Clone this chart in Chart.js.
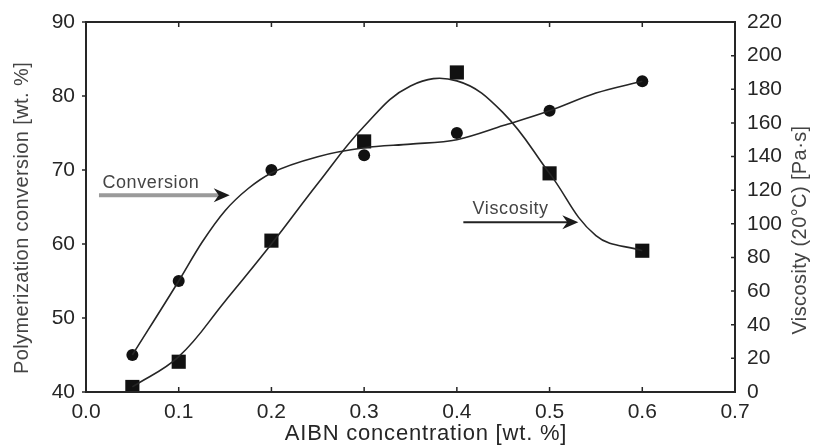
<!DOCTYPE html>
<html>
<head>
<meta charset="utf-8">
<script src="https://cdn.jsdelivr.net/npm/chart.js@4"></script>
<style>
  html,body{ margin:0; padding:0; background:#fff; }
  #wrap{ width:819px; height:448px; }
</style>
</head>
<body>
<div id="wrap"><canvas id="chart" width="819" height="448"></canvas></div>
<script>
// measured points
const concentration = [0.05, 0.1, 0.2, 0.3, 0.4, 0.5, 0.6];
const conversion = [45, 55, 70, 72, 75, 78, 82];       // wt. %
const viscosity = [3, 18, 90, 149, 190, 130, 84];      // Pa·s

// fitted curves
const conversionFitX = [0.05, 0.1, 0.125, 0.15, 0.175, 0.2, 0.25, 0.3, 0.35, 0.4, 0.45, 0.5, 0.55, 0.6];
const conversionFit = [45, 55, 60.2, 64.5, 67.5, 69.6, 71.8, 73, 73.5, 74.1, 76, 78, 80.4, 82];
const viscosityFitX = [0.05, 0.1, 0.15, 0.2, 0.25, 0.3, 0.35, 0.4, 0.45, 0.5, 0.55, 0.6];
const viscosityFit = [3, 21, 54, 88, 124, 158, 182, 185, 166, 130, 93, 84];

const xTicks = [0, 0.1, 0.2, 0.3, 0.4, 0.5, 0.6, 0.7];
const leftTicks = [40, 50, 60, 70, 80, 90];
const rightTicks = [0, 20, 40, 60, 80, 100, 120, 140, 160, 180, 200, 220];

const font = "'Liberation Sans', Arial, sans-serif";
const ink = "#262626";

function pts(xs, ys){ return xs.map((x,i)=>({x, y: ys[i]})); }

const frame = {
  id:"frame",
  afterDraw(chart){
    const {ctx, chartArea:a, scales} = chart;
    ctx.save();
    ctx.strokeStyle = ink;
    ctx.lineWidth = 2;
    ctx.strokeRect(a.left, a.top, a.right-a.left, a.bottom-a.top);
    ctx.lineWidth = 1.5;
    ctx.beginPath();
    xTicks.forEach(v => {
      const px = scales.x.getPixelForValue(v);
      ctx.moveTo(px, a.bottom); ctx.lineTo(px, a.bottom-5);
      ctx.moveTo(px, a.top); ctx.lineTo(px, a.top+5);
    });
    leftTicks.forEach(v => {
      const py = scales.y.getPixelForValue(v);
      ctx.moveTo(a.left-4, py); ctx.lineTo(a.left, py);
    });
    rightTicks.forEach(v => {
      const py = scales.y2.getPixelForValue(v);
      ctx.moveTo(a.right-4, py); ctx.lineTo(a.right, py);
    });
    ctx.stroke();

    // axis titles
    ctx.textAlign = "center";
    ctx.textBaseline = "middle";
    ctx.fillStyle = ink;
    ctx.font = "22px " + font;
    ctx.letterSpacing = "0.8px";
    ctx.fillText("AIBN concentration [wt. %]", 426, 434);
    ctx.fillStyle = "#444";
    ctx.font = "20px " + font;
    ctx.letterSpacing = "0.4px";
    ctx.save(); ctx.translate(22, 218); ctx.rotate(-Math.PI/2);
    ctx.fillText("Polymerization conversion [wt. %]", 0, 0); ctx.restore();
    ctx.save(); ctx.translate(800, 230); ctx.rotate(-Math.PI/2);
    ctx.fillText("Viscosity (20°C) [Pa·s]", 0, 0); ctx.restore();

    // annotations
    const X = v => scales.x.getPixelForValue(v);
    ctx.font = "18px " + font;
    ctx.letterSpacing = "0.6px";
    ctx.fillText("Conversion", X(0.07), scales.y.getPixelForValue(68.2));
    ctx.fillText("Viscosity", X(0.458), scales.y2.getPixelForValue(109));

    // conversion arrow (grey shaft, dark head)
    let y = scales.y.getPixelForValue(66.6);
    ctx.strokeStyle = "#9a9a9a"; ctx.lineWidth = 4;
    ctx.beginPath(); ctx.moveTo(X(0.014), y); ctx.lineTo(X(0.145), y); ctx.stroke();
    arrowHead(ctx, X(0.155), y);
    // viscosity arrow
    y = scales.y2.getPixelForValue(101);
    ctx.strokeStyle = "#222"; ctx.lineWidth = 2;
    ctx.beginPath(); ctx.moveTo(X(0.407), y); ctx.lineTo(X(0.52), y); ctx.stroke();
    arrowHead(ctx, X(0.531), y);
    ctx.restore();
  }
};

function arrowHead(ctx, x, y){
  ctx.fillStyle = "#1a1a1a";
  ctx.beginPath();
  ctx.moveTo(x, y);
  ctx.lineTo(x-16, y-7);
  ctx.lineTo(x-11, y);
  ctx.lineTo(x-16, y+7);
  ctx.closePath();
  ctx.fill();
}

new Chart(document.querySelector("#chart"), {
  type:"scatter",
  data:{
    datasets:[
      { label:"Conversion fit", data:pts(conversionFitX, conversionFit), yAxisID:"y", showLine:true,
        borderColor:ink, borderWidth:1.6, pointRadius:0, cubicInterpolationMode:"monotone" },
      { label:"Viscosity fit", data:pts(viscosityFitX, viscosityFit), yAxisID:"y2", showLine:true,
        borderColor:ink, borderWidth:1.6, pointRadius:0, tension:0.4 },
      { label:"Conversion", data:pts(concentration, conversion), yAxisID:"y",
        pointStyle:"circle", pointRadius:6, backgroundColor:"#111", borderColor:"#111", borderWidth:0 },
      { label:"Viscosity", data:pts(concentration, viscosity), yAxisID:"y2",
        pointStyle:"rect", pointRadius:10, backgroundColor:"#111", borderColor:"#111", borderWidth:0 }
    ]
  },
  options:{
    responsive:false,
    animation:false,
    layout:{ padding:{ top:22, left:0, right:0, bottom:0 } },
    plugins:{ legend:{ display:false }, tooltip:{ enabled:false } },
    scales:{
      x:{
        type:"linear", min:0, max:0.7,
        afterBuildTicks: s => { s.ticks = xTicks.map(v=>({value:v})); },
        afterFit: s => { s.height = 56; },
        grid:{ display:false }, border:{ display:false },
        ticks:{ color:ink, padding:0, font:{ family:font, size:21 }, callback: v => v.toFixed(1) }
      },
      y:{
        position:"left", min:40, max:90,
        afterBuildTicks: s => { s.ticks = leftTicks.map(v=>({value:v})); },
        afterFit: s => { s.width = 86; },
        grid:{ display:false }, border:{ display:false },
        ticks:{ color:ink, padding:3, font:{ family:font, size:21 } }
      },
      y2:{
        position:"right", min:0, max:220,
        afterBuildTicks: s => { s.ticks = rightTicks.map(v=>({value:v})); },
        afterFit: s => { s.width = 84; },
        grid:{ display:false }, border:{ display:false },
        ticks:{ color:ink, padding:4, font:{ family:font, size:21 } }
      }
    }
  },
  plugins:[frame]
});
</script>
</body>
</html>
